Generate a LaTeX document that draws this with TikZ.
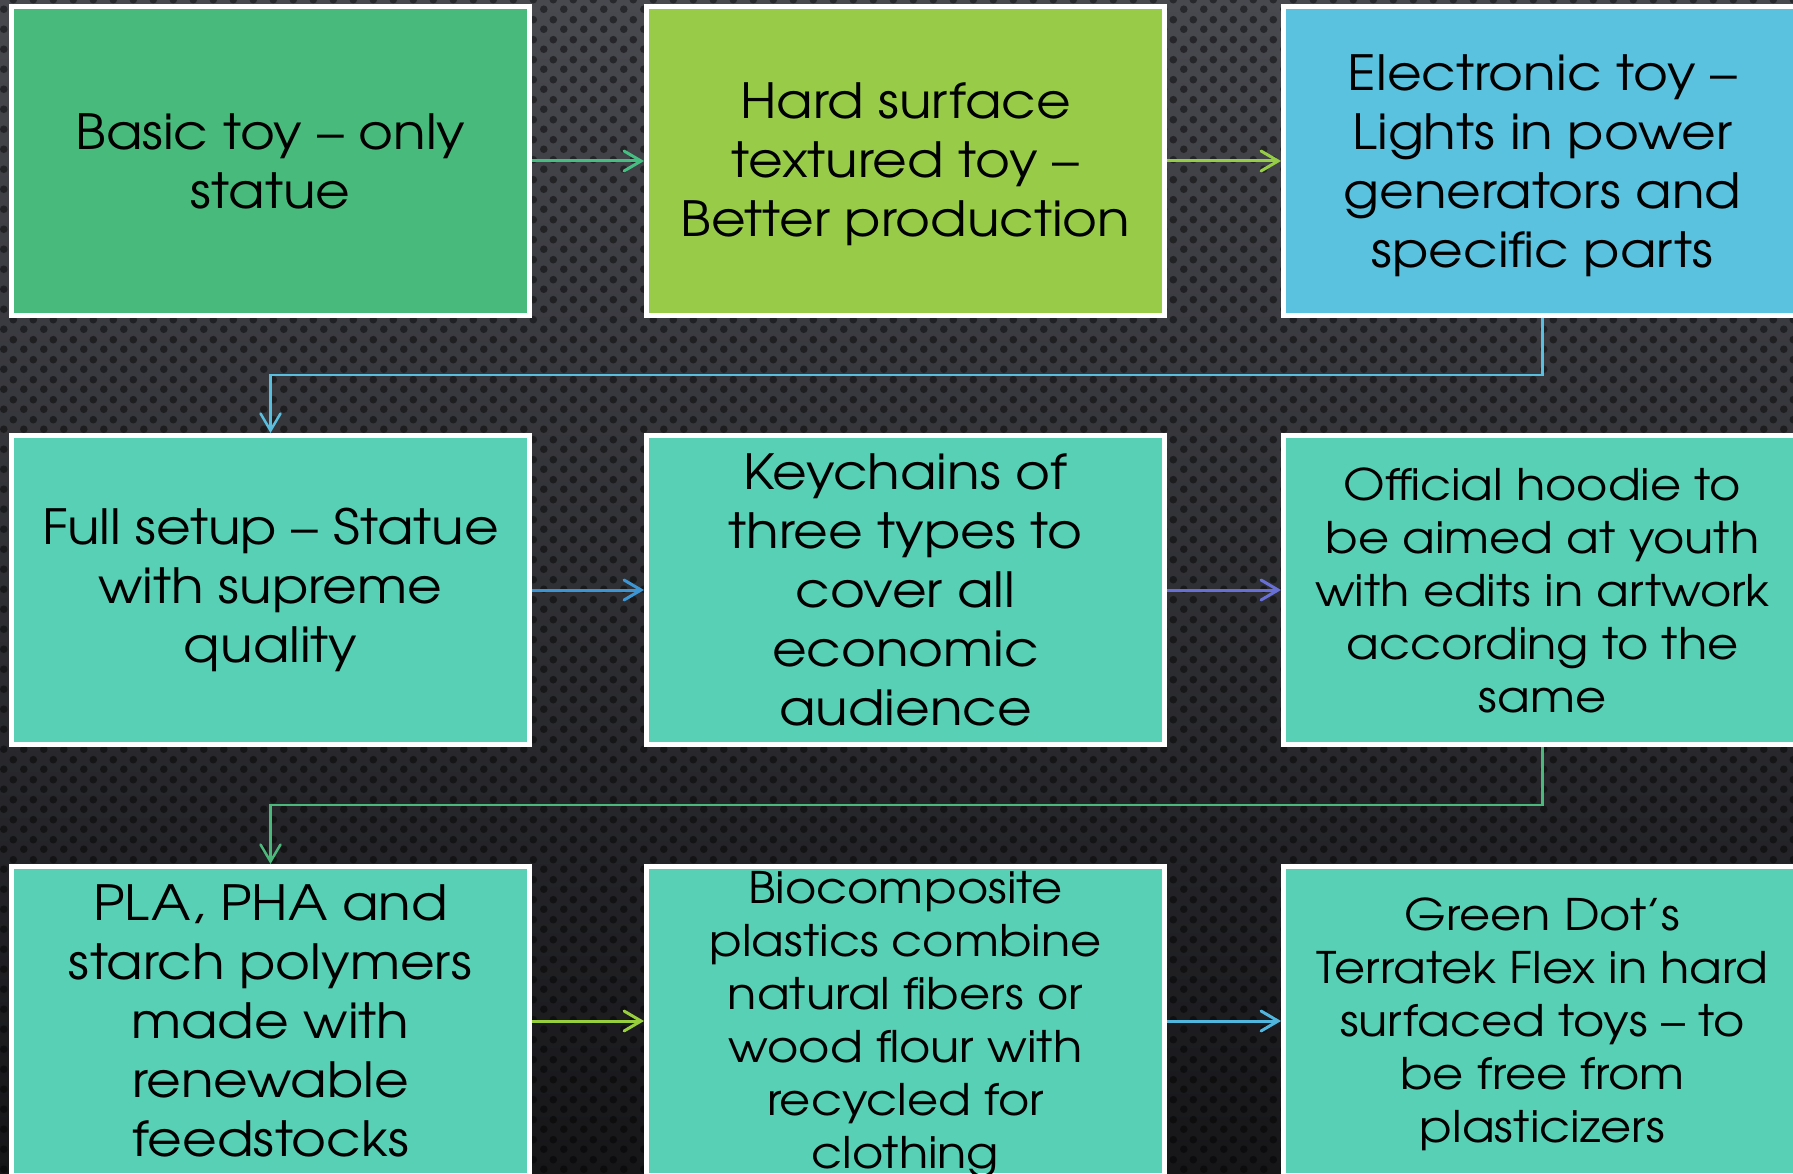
\documentclass[tikz,border=0pt]{standalone}
\usepackage{fontspec}
\setmainfont{TeX Gyre Adventor}[FakeStretch=1.1]
\usetikzlibrary{arrows.meta,patterns}

% perforated-metal backdrop: staggered dots on a 20pt tile
\pgfdeclarepatternformonly{perfdots}{\pgfpointorigin}{\pgfpoint{20pt}{20pt}}{\pgfpoint{20pt}{20pt}}{%
  \pgfpathcircle{\pgfpoint{5pt}{5pt}}{4pt}%
  \pgfpathcircle{\pgfpoint{15pt}{15pt}}{4pt}%
  \pgfusepath{fill}}

\definecolor{bgtop}{RGB}{72,73,79}
\definecolor{bgbot}{RGB}{22,22,25}
\definecolor{boxgreen}{RGB}{72,186,124}
\definecolor{boxlime}{RGB}{152,204,72}
\definecolor{boxsky}{RGB}{90,194,222}
\definecolor{boxteal}{RGB}{88,208,182}
\definecolor{arrA}{RGB}{70,190,130}
\definecolor{arrB}{RGB}{150,205,70}
\definecolor{arrC}{RGB}{90,190,222}
\definecolor{arrD}{RGB}{60,150,212}
\definecolor{arrE}{RGB}{104,112,214}
\definecolor{arrF}{RGB}{76,184,124}
\definecolor{arrG}{RGB}{150,206,62}
\definecolor{arrH}{RGB}{80,182,222}

\tikzset{
  card/.style={draw=white, line width=5pt, minimum width=518pt,
    minimum height=309pt, inner sep=0pt},
  bigtext/.style={align=center, text=black, inner sep=0pt,
    font=\fontsize{48.5}{59}\selectfont},
  smalltext/.style={align=center, text=black, inner sep=0pt,
    font=\fontsize{43.5}{53}\selectfont},
  flow/.style={line width=3pt, -{Straight Barb[length=17pt,width=20pt,line cap=round]}},
  elbow/.style={line width=2.5pt, -{Straight Barb[length=17pt,width=20pt,line cap=round]}}
}

\begin{document}
\begin{tikzpicture}[x=1pt,y=1pt]
  \useasboundingbox (0,0) rectangle (1793,-1174);
  \clip (0,0) rectangle (1793,-1174);

  % backdrop
  \shade[top color=bgtop, bottom color=bgbot] (0,0) rectangle (1793,-1174);
  \fill[pattern=perfdots, pattern color=black, fill opacity=0.45] (0,0) rectangle (1793,-1174);

  % cards
  \node[card, fill=boxgreen] (b1) at (270.5,-161) {};
  \node[card, fill=boxlime]  (b2) at (905.5,-161) {};
  \node[card, fill=boxsky]   (b3) at (1542.5,-161) {};
  \node[card, fill=boxteal]  (b4) at (270.5,-590) {};
  \node[card, fill=boxteal]  (b5) at (905.5,-590) {};
  \node[card, fill=boxteal]  (b6) at (1542.5,-590) {};
  \node[card, fill=boxteal]  (b7) at (270.5,-1021) {};
  \node[card, fill=boxteal]  (b8) at (905.5,-1021) {};
  \node[card, fill=boxteal]  (b9) at (1542.5,-1021) {};

  % card texts
  \node[bigtext] (t1) at (b1) {Basic toy – only\\statue};
  \node[bigtext] (t2) at ([yshift=-3pt]b2.center) {Hard surface\\textured toy –\\Better production};
  \node[bigtext] (t3) at ([yshift=-5pt]b3.center) {Electronic toy –\\Lights in power\\generators and\\specific parts};
  \node[bigtext] (t4) at (b4) {Full setup – Statue\\with supreme\\quality};
  \node[bigtext] (t5) at (b5) {Keychains of\\three types to\\cover all\\economic\\audience};
  \node[smalltext] (t6) at (b6) {Official hoodie to\\be aimed at youth\\with edits in artwork\\according to the\\same};
  \node[bigtext] (t7) at (b7) {PLA, PHA and\\starch polymers\\made with\\renewable\\feedstocks};
  \node[smalltext] (t8) at ([yshift=-4pt]b8.center) {Biocomposite\\plastics combine\\natural fibers or\\wood flour with\\recycled for\\clothing};
  \node[smalltext] (t9) at ([yshift=-3pt]b9.center) {Green Dot’s\\Terratek Flex in hard\\surfaced toys – to\\be free from\\plasticizers};

  % straight connectors
  \draw[flow, arrA] (b1.east) -- (b2.west);
  \draw[flow, arrB] (b2.east) -- (b3.west);
  \draw[flow, arrD] (b4.east) -- (b5.west);
  \draw[flow, arrE] (b5.east) -- (b6.west);
  \draw[flow, arrG] (b7.east) -- (b8.west);
  \draw[flow, arrH] (b8.east) -- (b9.west);

  % elbow connectors between rows
  \draw[elbow, arrC] (b3.south) -- ++(0,-57) -| (b4.north);
  \draw[elbow, arrF] (b6.south) -- ++(0,-58) -| (b7.north);
\end{tikzpicture}
\end{document}
